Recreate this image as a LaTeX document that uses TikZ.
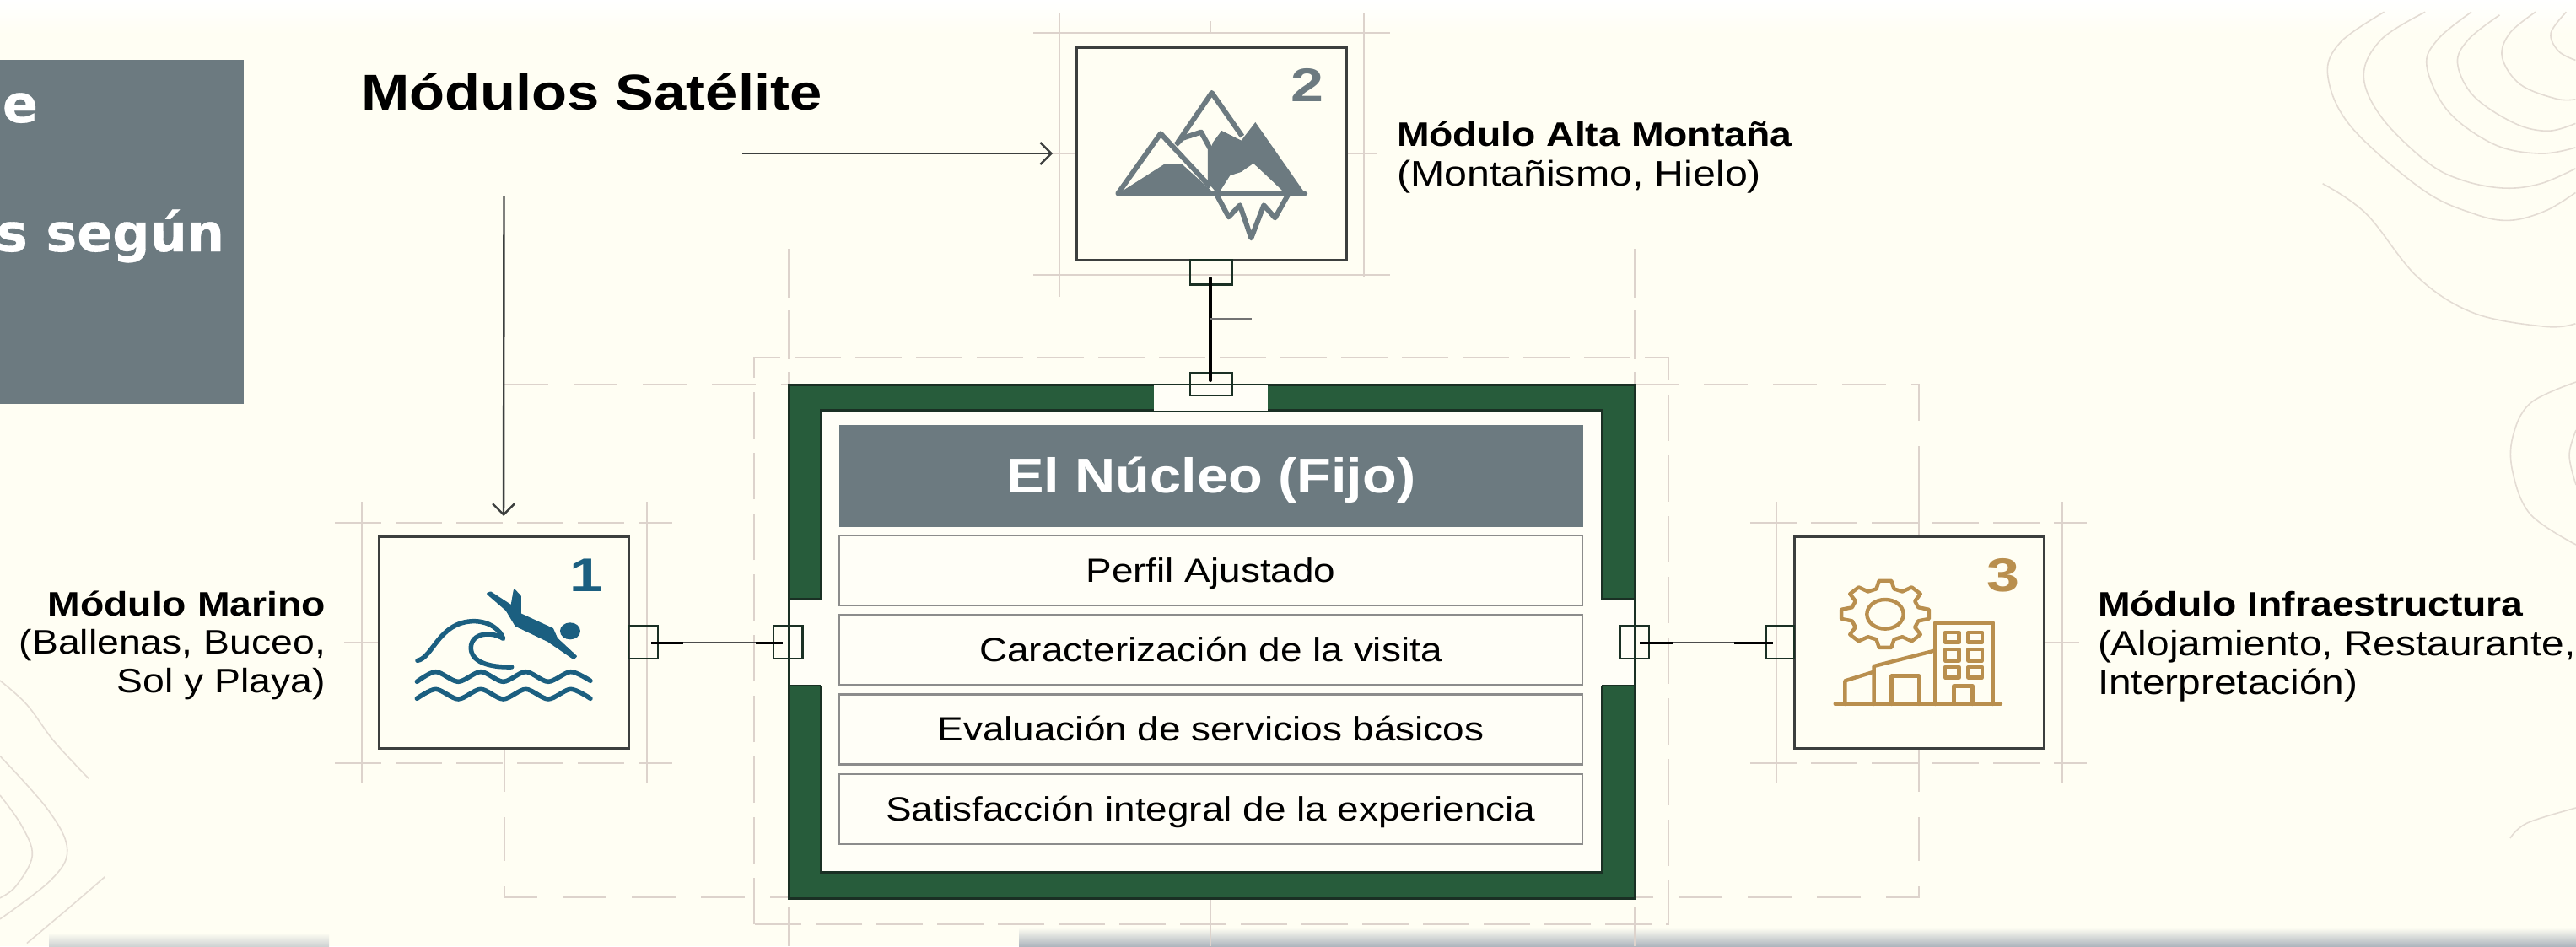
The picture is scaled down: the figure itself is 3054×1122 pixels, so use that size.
\documentclass[tikz,border=0pt]{standalone}
\usepackage{fontspec}
\setmainfont[FakeStretch=1.15]{Liberation Sans}
\newfontfamily\boxfont[BoldFeatures={FakeBold=0.5}]{DejaVu Sans}
\newfontfamily\numfont[FakeStretch=1.25]{Liberation Sans}
\usetikzlibrary{arrows.meta}
\definecolor{paper}{HTML}{FFFEF3}
\definecolor{rowfill}{HTML}{FFFEF7}
\definecolor{guide}{HTML}{DDD3CC}
\definecolor{slate}{HTML}{6C7A80}
\definecolor{ink}{HTML}{3C3F3E}
\definecolor{nucgreen}{HTML}{275C3B}
\definecolor{nucedge}{HTML}{1A3024}
\definecolor{marine}{HTML}{1B5F80}
\definecolor{gold}{HTML}{B98F4E}
\definecolor{stripgrey}{HTML}{AEB6BE}
\newcommand{\fs}[1]{\fontsize{#1}{#1}\selectfont}
\tikzset{
  every node/.style={outer sep=0pt},
  guideline/.style={guide,line width=2pt},
  guidedash/.style={guide,line width=2.4pt,dash pattern=on 55pt off 17pt},
  widedash/.style={guide,line width=2.4pt,dash pattern=on 52pt off 30pt},
  contour/.style={color=guide!80!paper,line width=1.6pt,smooth,tension=.6},
  modbox/.style={draw=ink,line width=3pt,fill=paper,inner sep=0pt,anchor=north west},
  socket/.style={draw=nucedge,line width=2.4pt,inner sep=0pt,anchor=north west},
  rowbox/.style={draw=black!45,line width=2.6pt,fill=rowfill,inner sep=0pt,anchor=north west,minimum width=881pt,minimum height=83pt,text=black,font=\fs{39.9},text height=27pt,text depth=0pt},
  lead/.style={ink,line width=2.4pt,-{Straight Barb[length=13pt,width=26pt,line width=2.4pt]}},
  bolt/.style={black,line width=4pt},
  fine/.style={black!70,line width=1.2pt},
  numeral/.style={font=\numfont\fs{56}\bfseries,inner sep=0pt,anchor=base},
  sidelabel/.style={inner sep=0pt,font=\fs{40.3},text=black}
}
\begin{document}
\begin{tikzpicture}[x=1pt,y=-1pt]
\useasboundingbox (0,0) rectangle (3054,1122);
% paper
\fill[paper] (0,0) rectangle (3054,1122);
\shade[top color=white,bottom color=paper] (0,0) rectangle (3054,40);
\shade[top color=paper,bottom color=stripgrey] (1208,1100) rectangle (3054,1122);
\shade[top color=paper,bottom color=stripgrey!60!paper] (58,1106) rectangle (390,1122);
% contour lines, right top
\begin{scope}[shift={(2100,0)},x=.608pt,y=-.357pt]
\draw[contour] plot coordinates {(1195,40)(1110,140)(1085,250)(1130,420)(1270,630)(1370,710)(1440,732)(1510,700)(1568,640)};
\draw[contour] plot coordinates {(1275,40)(1190,130)(1155,250)(1190,390)(1280,540)(1350,600)(1430,625)(1500,610)(1568,560)};
\draw[contour] plot coordinates {(1365,40)(1300,130)(1278,220)(1320,370)(1410,480)(1500,510)(1568,490)};
\draw[contour] plot coordinates {(1420,50)(1360,130)(1338,210)(1370,320)(1450,410)(1515,435)(1568,410)};
\draw[contour] plot coordinates {(1490,40)(1440,110)(1425,190)(1460,280)(1530,328)(1568,330)};
\draw[contour] plot coordinates {(1550,40)(1520,110)(1535,170)(1568,200)};
\draw[contour] plot coordinates {(1075,610)(1160,710)(1260,920)(1370,1040)(1510,1085)(1568,1075)};
\end{scope}
\draw[contour] plot coordinates {(3054,453)(3000,478)(2979,518)(2979,560)(3000,610)(3054,646)};
\draw[contour] plot coordinates {(3054,510)(3046,540)(3054,575)};
\draw[contour] plot coordinates {(2976,994)(2996,976)(3054,958)};
% contour lines, left bottom
\begin{scope}[shift={(0,560)},x=.638pt,y=-.358pt]
\draw[contour] plot coordinates {(0,690)(50,770)(100,890)(165,1015)};
\draw[contour] plot coordinates {(0,940)(90,1120)(125,1250)(95,1350)(0,1480)};
\draw[contour] plot coordinates {(0,1070)(40,1170)(60,1270)(30,1370)(0,1410)};
\draw[contour] plot coordinates {(195,1340)(130,1440)(50,1560)};
\end{scope}
% construction guides
\draw[guidedash] (894,1096) -- (894,424) -- (1978,424) -- (1978,1096) -- cycle;
\draw[widedash] (598,456) -- (935,456);
\draw[widedash] (1938,456) -- (2275,456) -- (2275,636);
\draw[widedash] (598,887) -- (598,1064) -- (935,1064);
\draw[widedash] (2275,887) -- (2275,1064) -- (1938,1064);
\draw[guideline,dash pattern=on 58pt off 15pt] (935,295) -- (935,456);
\draw[guideline,dash pattern=on 58pt off 15pt] (1938,295) -- (1938,456);
\draw[guideline] (935,1075) -- (935,1122) (1435,1065) -- (1435,1122) (1938,1075) -- (1938,1122);
% guides round module 1
\draw[guidedash] (397,620) -- (797,620) (397,905) -- (797,905);
\draw[guideline] (428.6,595) -- (428.6,929) (766.6,595) -- (766.6,929) (408,762) -- (449,762);
% guides round module 2
\draw[guideline,line width=2.4pt] (1225,39) -- (1648,39) (1225,326) -- (1648,326);
\draw[guideline] (1256,15) -- (1256,352) (1617,15) -- (1617,328) (1435,25) -- (1435,39) (1238,182) -- (1276,182) (1596,182) -- (1633,182);
% guides round module 3
\draw[guidedash] (2075,620) -- (2474,620) (2075,905) -- (2474,905);
\draw[guideline] (2106,595) -- (2106,929) (2444.5,595) -- (2444.5,929) (2275,581) -- (2275,620) (2423,762) -- (2465,762);
% heading and panel
\node[fill=slate,inner sep=0pt,anchor=north west,minimum width=289pt,minimum height=408pt] (panel) at (0,71) {};
\node[anchor=base east,inner sep=0pt,text=white,font=\boxfont\fs{62}\bfseries] (panelA) at (45,145) {e};
\node[anchor=base east,inner sep=0pt,text=white,font=\boxfont\fs{62}\bfseries] (panelB) at (266,298) {s según};
\node[anchor=base west,inner sep=0pt,font=\fs{59.8}\bfseries] (title) at (428,130) {Módulos Satélite};
% nucleus
\node[draw=nucedge,line width=3pt,fill=nucgreen,inner sep=0pt,anchor=north west,minimum width=1003pt,minimum height=609pt] (nucleus) at (935,456) {};
\node[draw=nucedge,line width=3pt,fill=rowfill,inner sep=0pt,anchor=north west,minimum width=926pt,minimum height=548pt] (core) at (973,486) {};
\fill[rowfill] (1368,455) rectangle (1503,487);
\draw[nucedge,line width=2.4pt] (1368,456) -- (1503,456);
\fill[rowfill] (934,710.5) rectangle (974,813);
\draw[nucedge,line width=2.4pt] (935,710.5) -- (973,710.5) (935,813) -- (973,813) (935,710.5) -- (935,813);
\fill[rowfill] (1898,710.5) rectangle (1939,813);
\draw[nucedge,line width=2.4pt] (1899,710.5) -- (1938,710.5) (1899,813) -- (1938,813) (1938,710.5) -- (1938,813);
\node[fill=slate,inner sep=0pt,anchor=north west,minimum width=881.5pt,minimum height=120.5pt,text=white,font=\fs{58}\bfseries,text height=40pt,text depth=0pt] (header) at (995,504) {El Núcleo (Fijo)};
\node[rowbox] (rowA) at (995,635) {Perfil Ajustado};
\node[rowbox] (rowB) at (995,729.5) {Caracterización de la visita};
\node[rowbox] (rowC) at (995,823.5) {Evaluación de servicios básicos};
\node[rowbox] (rowD) at (995,918) {Satisfacción integral de la experiencia};
% modules
\node[modbox,minimum width=296pt,minimum height=251pt] (modA) at (449,636) {};
\node[modbox,minimum width=320pt,minimum height=252pt] (modB) at (1276,56) {};
\node[modbox,minimum width=296pt,minimum height=251pt] (modC) at (2127,636) {};
% numerals
\node[numeral,text=marine] (numA) at (695,701) {1};
\node[numeral,text=slate] (numB) at (1550,120) {2};
\node[numeral,text=gold] (numC) at (2375,701) {3};
% labels
\node[sidelabel,anchor=north east,align=right] (labA) at (386,701) {\textbf{Módulo Marino}\\[4.5pt](Ballenas, Buceo,\\[5.5pt]Sol y Playa)};
\node[sidelabel,anchor=north west,align=left] (labB) at (1656,144) {\textbf{Módulo Alta Montaña}\\[7pt]\fs{42}(Montañismo, Hielo)};
\node[sidelabel,anchor=north west,align=left] (labC) at (2487,701) {\textbf{Módulo Infraestructura}\\[7pt]\fs{41.6}(Alojamiento, Restaurante,\\[5pt]\fs{41.6}Interpretación)};
% sockets and connectors
\node[socket,minimum width=50pt,minimum height=29.5pt] (sockBa) at (1411,308) {};
\node[socket,minimum width=50pt,minimum height=27pt] (sockBb) at (1411,442) {};
\node[socket,minimum width=35pt,minimum height=39pt] (sockAa) at (745,742) {};
\node[socket,minimum width=34.5pt,minimum height=39pt] (sockAb) at (917,742) {};
\node[socket,minimum width=34pt,minimum height=39pt] (sockCa) at (1921,742) {};
\node[socket,minimum width=33pt,minimum height=39pt] (sockCb) at (2094,742) {};
\coordinate (endBa) at (1435,330);
\coordinate (endBb) at (1435,451);
\coordinate (tick) at (1484,378);
\draw[bolt,line cap=round] (endBa) -- (endBb);
\draw[black!55,line width=2pt] (1435,378) -- (tick);
\coordinate (endAa) at (772,762);
\coordinate (endAb) at (928,762);
\coordinate (endCa) at (1944,762);
\coordinate (endCb) at (2102,762);
\draw[fine] (endAa) -- (endAb);
\draw[fine] (endCa) -- (endCb);
\draw[black,line width=3pt] (endAa) -- (810,762) (896,762) -- (endAb);
\draw[black,line width=3pt] (endCa) -- (1984,762) (2056,762) -- (endCb);
% lead arrows
\coordinate (leadB) at (880,182);
\coordinate (leadA) at (597.5,232);
\draw[lead,shorten >=28pt] (leadB) -- (modB.west);
\draw[lead,shorten >=24pt] (leadA) -- (modA.north);
% icon 1
\begin{scope}[shift={(430,620)},x=.3333pt,y=-.3333pt]
\fill[marine] (738,385) ellipse [x radius=36,y radius=30];
\filldraw[marine,line join=round,line width=2.5pt] (445,252) -- (455,248) -- (530,297) -- (540,240) -- (560,262) -- (560,325) -- (675,378) -- (690,412) -- (758,475) -- (750,482) -- (660,420) -- (545,365) -- (512,310) -- cycle;
\draw[marine,line width=5.5pt,line cap=round,line join=round] (195,490) .. controls (250,480) and (270,352) .. (395,350) .. controls (450,350) and (490,380) .. (500,412) .. controls (460,385) and (385,390) .. (385,445) .. controls (385,495) and (450,515) .. (530,513);
\draw[marine,line width=5.5pt,line cap=round,smooth] plot coordinates {(193,565)(260,530)(340,565)(420,530)(500,565)(580,530)(660,565)(740,530)(810,562)};
\draw[marine,line width=5.5pt,line cap=round,smooth] plot coordinates {(193,625)(260,592)(340,627)(420,592)(500,627)(580,592)(660,627)(740,592)(810,625)};
\end{scope}
% icon 2
\begin{scope}[shift={(1250,30)},x=.3333pt,y=-.3333pt]
\fill[slate] (225,600) -- (390,495) -- (455,495) -- (560,590) -- (580,600) -- cycle;
\fill[slate] (565,415) -- (595,375) -- (665,410) -- (715,345) -- (893,600) -- (580,600) -- (555,570) -- (555,440) -- cycle;
\fill[paper] (590,590) -- (625,535) -- (665,522) -- (708,492) -- (765,545) -- (812,590) -- cycle;
\draw[slate,line width=6pt,line join=round] (225,600) -- (378,385) -- (555,575);
\draw[slate,line width=6pt,line join=round] (440,415) -- (560,240) -- (668,395);
\draw[slate,line width=6pt,line join=round] (432,425) -- (455,402) -- (522,380) -- (555,440) -- (555,565);
\draw[slate,line width=5pt,line join=round,line cap=round] (225,600) -- (893,600);
\draw[slate,line width=6pt,line join=round,line cap=round] (578,604) -- (620,682) -- (660,640) -- (700,757) -- (745,640) -- (785,685) -- (830,605);
\end{scope}
% icon 3
\begin{scope}[shift={(2100,620)},x=.3333pt,y=-.3333pt]
\begin{scope}[gold,line width=4.4pt,line join=round,line cap=round]
\draw (405,325) ellipse [x radius=65,y radius=52];
\begin{scope}[shift={(405,325)}]
\draw (-8:157 and 120)
  \foreach \a in {0,45,...,315} {
    -- (\a+8:157 and 120) -- (\a+15:122 and 93) -- (\a+30:122 and 93) -- (\a+37:157 and 120)
  } -- cycle;
\end{scope}
\draw (583,645) -- (583,355) -- (788,355) -- (788,645);
\foreach \yy/\yb in {390/425,450/490,513/550}{
  \draw (618,\yy) rectangle (668,\yb);
  \draw (700,\yy) rectangle (750,\yb);
}
\draw (650,645) -- (650,580) -- (715,580) -- (715,645);
\draw (262,645) -- (262,562) -- (365,530);
\draw (365,645) -- (365,510) -- (580,455);
\draw (428,645) -- (428,545) -- (525,545) -- (525,645);
\draw[line width=5pt] (228,645) -- (815,645);
\end{scope}
\end{scope}
\end{tikzpicture}
\end{document}
